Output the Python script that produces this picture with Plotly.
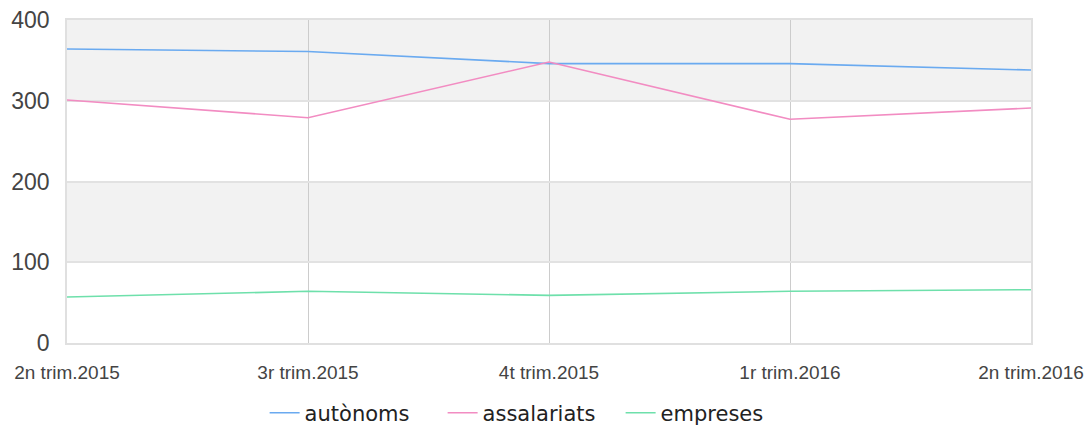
import plotly.graph_objects as go

categories = ["2n trim.2015", "3r trim.2015", "4t trim.2015", "1r trim.2016", "2n trim.2016"]
autonoms = [364, 361, 346, 346, 338]
assalariats = [301, 279, 348, 277, 291]
empreses = [57, 64, 59, 64, 66]
y_ticks = [0, 100, 200, 300, 400]

series = [
    ("autònoms", autonoms, "#6aaaf0"),
    ("assalariats", assalariats, "#f28cc2"),
    ("empreses", empreses, "#6ee0ab"),
]

fig = go.Figure()
for name, vals, col in series:
    fig.add_trace(go.Scatter(x=categories, y=vals, name=name, mode="lines",
                             line=dict(color=col, width=1.6)))

# alternating bands
for lo, hi in [(100, 200), (300, 400)]:
    fig.add_shape(type="rect", xref="paper", yref="y", x0=0, x1=1, y0=lo, y1=hi,
                  fillcolor="#f2f2f2", line_width=0, layer="below")

fig.update_layout(
    width=1087, height=425,
    margin=dict(l=67, r=56, t=20, b=82, autoexpand=False),
    paper_bgcolor="white", plot_bgcolor="white",
    showlegend=True,
    legend=dict(orientation="h", x=0.205, xanchor="left", y=-0.217, yanchor="middle",
                font=dict(family="DejaVu Sans", size=21, color="#222"),
                itemwidth=30, entrywidth=133, entrywidthmode="pixels"),
    font=dict(family="Liberation Sans, Arial", color="#444"),
)
fig.update_xaxes(type="category", range=[0, 4], showgrid=True, gridcolor="#cccccc",
                 gridwidth=1.2,
                 showline=True, linecolor="#e0e0e0", linewidth=1.5, mirror=True,
                 ticks="outside", ticklen=11, tickcolor="rgba(0,0,0,0)",
                 ticklabeloverflow="allow",
                 tickfont=dict(size=19, color="#444"), zeroline=False)
fig.update_yaxes(range=[0, 400], tickvals=y_ticks, showgrid=True, gridcolor="#e2e2e2",
                 gridwidth=1.5,
                 showline=True, linecolor="#e0e0e0", linewidth=1.5, mirror=True,
                 ticks="outside", ticklen=11, tickcolor="rgba(0,0,0,0)",
                 ticklabeloverflow="allow",
                 tickfont=dict(size=23, color="#444"), zeroline=False)

# remove the default page margin so the figure fills the window exactly
fig.write_html("out.html",
               config={"displayModeBar": False},
               post_script="document.body.style.margin='0';document.body.style.overflow='hidden';")
